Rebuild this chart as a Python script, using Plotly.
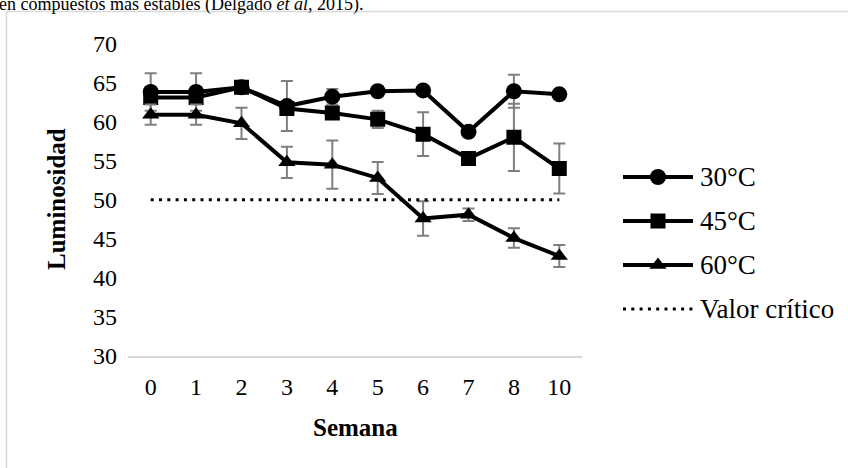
import plotly.graph_objects as go

# ---- data ----
weeks = ['0', '1', '2', '3', '4', '5', '6', '7', '8', '10']
t30 = [63.8, 63.8, 64.4, 62.0, 63.2, 63.9, 64.0, 58.7, 63.9, 63.5]
t30_err = [2.4, 2.4, 0.5, 3.2, 1.0, 0.3, 0.3, 0.4, 2.1, 0.5]
t45 = [63.1, 63.1, 64.4, 61.7, 61.1, 60.3, 58.4, 55.3, 58.0, 54.0]
t45_err = [0.5, 0.5, 0.5, 0.5, 0.5, 1.1, 2.8, 0.3, 4.3, 3.2]
t60 = [60.9, 60.9, 59.8, 54.8, 54.5, 52.8, 47.6, 48.1, 45.1, 42.8]
t60_err = [1.3, 1.3, 2.0, 2.0, 3.1, 2.05, 2.2, 0.8, 1.25, 1.4]
critico = [50] * len(weeks)
series_names = ['30°C', '45°C', '60°C', 'Valor crítico']
y_ticks = [30, 35, 40, 45, 50, 55, 60, 65, 70]

W, H = 848, 468
FONT = 'Liberation Serif, Times New Roman, serif'


def px(x):
    return x / W


def py(y):
    return 1 - y / H


fig = go.Figure()

styles = [
    (t30, t30_err, 'circle', 16),
    (t45, t45_err, 'square', 15),
    (t60, t60_err, 'triangle-up', 15),
]
for (vals, errs, sym, sz), name in zip(styles, series_names):
    fig.add_trace(go.Scatter(
        x=weeks, y=vals, mode='lines+markers', name=name,
        line=dict(color='black', width=4),
        marker=dict(symbol=sym, size=sz, color='black'),
        error_y=dict(type='data', array=errs, visible=True,
                     color='#7f7f7f', thickness=2, width=6),
        showlegend=False, xaxis='x', yaxis='y'))

fig.add_trace(go.Scatter(
    x=weeks, y=critico, mode='lines', name=series_names[3],
    line=dict(color='black', width=3, dash='3px,5.3px'),
    showlegend=False, xaxis='x', yaxis='y'))

# ---- manual legend (own small axes) ----
rows = [3.5, 2.5, 1.5, 0.5]
leg_syms = ['circle', 'square', 'triangle-up', None]
leg_sizes = [16, 15, 15, 0]
for name, r, sym, sz in zip(series_names, rows, leg_syms, leg_sizes):
    if sym is None:
        fig.add_trace(go.Scatter(x=[0, 1], y=[r, r], mode='lines',
                                 line=dict(color='black', width=3, dash='3px,5.3px'),
                                 showlegend=False, xaxis='x2', yaxis='y2', hoverinfo='skip'))
    else:
        fig.add_trace(go.Scatter(x=[0, 1], y=[r, r], mode='lines',
                                 line=dict(color='black', width=4),
                                 showlegend=False, xaxis='x2', yaxis='y2', hoverinfo='skip'))
        fig.add_trace(go.Scatter(x=[0.5], y=[r], mode='markers',
                                 marker=dict(symbol=sym, size=sz, color='black'),
                                 showlegend=False, xaxis='x2', yaxis='y2', hoverinfo='skip'))
    fig.add_annotation(x=px(698), y=py(155 + (4 - r) * 44), xref='paper', yref='paper',
                       text=name, showarrow=False, xanchor='left', yanchor='middle',
                       font=dict(family=FONT, size=27, color='black'))

PLOT_L, PLOT_R, PLOT_T, PLOT_B = 128, 582, 43.6, 356

fig.update_layout(
    width=W, height=H,
    margin=dict(l=0, r=0, t=0, b=0),
    paper_bgcolor='white', plot_bgcolor='white',
    font=dict(family=FONT, size=24, color='black'),
    xaxis=dict(domain=[px(PLOT_L), px(PLOT_R)], type='category', range=[-0.5, 9.5],
               showgrid=False, zeroline=False, showline=True, linecolor='#d9d9d9',
               linewidth=1.5, ticks='', tickfont=dict(family=FONT, size=24, color='black'),
               automargin=False, ticklabelstandoff=8),
    yaxis=dict(domain=[py(PLOT_B), py(PLOT_T)], range=[30, 70], tickvals=y_ticks,
               showgrid=False, zeroline=False, showline=False, ticks='',
               tickfont=dict(family=FONT, size=24, color='black'),
               automargin=False, ticklabelstandoff=10),
    xaxis2=dict(domain=[px(623), px(693)], range=[0, 1], visible=False, anchor='y2'),
    yaxis2=dict(domain=[py(331), py(155)], range=[0, 4], visible=False, anchor='x2'),
    showlegend=False,
)

# axis titles
fig.add_annotation(x=px(355), y=py(427), xref='paper', yref='paper', text='<b>Semana</b>',
                   showarrow=False, xanchor='center', yanchor='middle',
                   font=dict(family=FONT, size=25, color='black'))
fig.add_annotation(x=px(56), y=py(199), xref='paper', yref='paper', text='<b>Luminosidad</b>',
                   showarrow=False, xanchor='center', yanchor='middle', textangle=-90,
                   font=dict(family=FONT, size=25, color='black'))

# text of the page above the chart (partly cut off)
fig.add_annotation(x=px(-3), y=py(5), xref='paper', yref='paper',
                   text='en compuestos más estables (Delgado <i>et al</i>, 2015).',
                   showarrow=False, xanchor='left', yanchor='middle',
                   font=dict(family=FONT, size=18, color='black'))

# chart frame
fig.add_shape(type='rect', xref='paper', yref='paper',
              x0=px(6.5), x1=px(860), y0=py(480), y1=py(11.5),
              line=dict(color='#d9d9d9', width=1.5), fillcolor='rgba(0,0,0,0)', layer='below')

fig.write_html('out.html')
